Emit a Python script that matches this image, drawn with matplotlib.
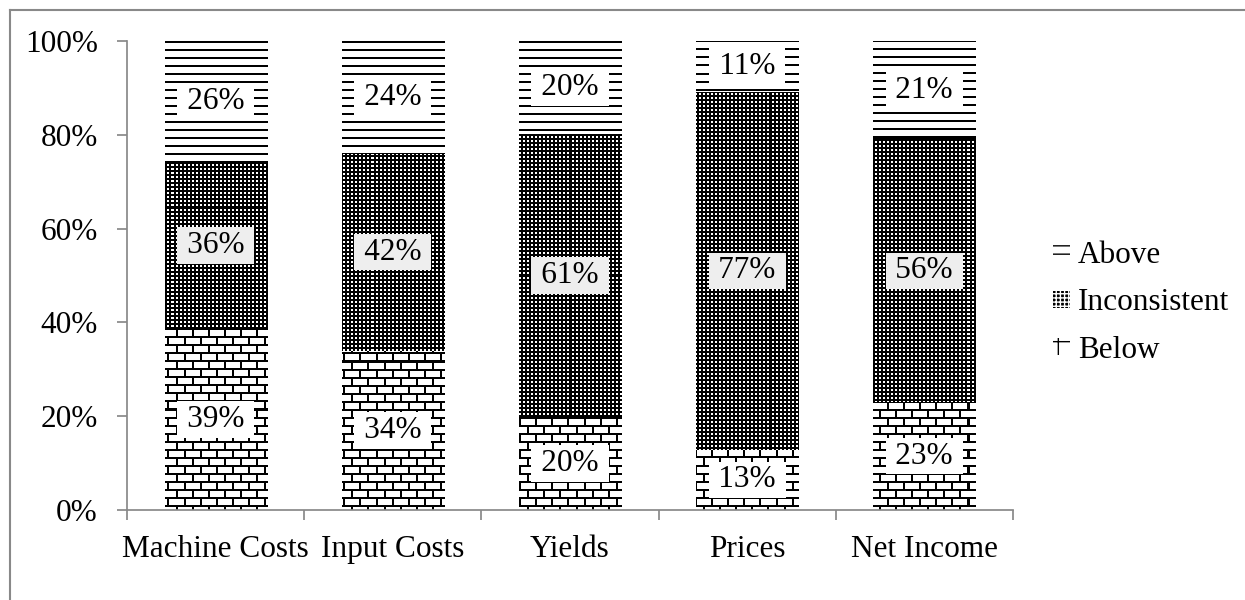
import numpy as np
import matplotlib
matplotlib.use("Agg")
import matplotlib.pyplot as plt
from matplotlib.patches import Patch
from matplotlib.lines import Line2D

# survey shares per item, in percent
categories = ["Machine Costs", "Input Costs", "Yields", "Prices", "Net Income"]
below = [39, 34, 20, 13, 23]
inconsistent = [36, 42, 61, 77, 56]
above = [26, 24, 20, 11, 21]
y_ticks = [0, 20, 40, 60, 80, 100]

plt.rcParams["font.family"] = ["Liberation Serif", "DejaVu Serif"]
plt.rcParams["font.size"] = 22.5

W, H, DPI = 1245, 600, 100
AX_W, AX_H = 886, 469
GRAY = "#898989"

fig = plt.figure(figsize=(W / DPI, H / DPI), dpi=DPI)
ax = fig.add_axes([127 / W, 1 - 510 / H, AX_W / W, AX_H / H])

# pattern fills, one pixel per screen pixel over the axes area
yy, xx = np.mgrid[0:AX_H, 0:AX_W]
stripes = np.where(yy % 8 < 2, 0.0, 1.0)
row = yy // 8
bricks = np.where((yy % 8 < 2) | (((xx + (row % 2) * 8) % 16) < 2), 0.0, 1.0)
dots = np.where((yy % 4 < 2) & (xx % 4 < 2), 1.0, 0.0)

x = np.arange(len(categories))
totals = np.array(below) + np.array(inconsistent) + np.array(above)
bottom = np.zeros(len(x))
series = [(below, bricks, "white"),
          (inconsistent, dots, "#eeeeee"),
          (above, stripes, "white")]

for vals, tex, boxcolor in series:
    frac = np.array(vals) / totals
    bars = ax.bar(x, frac, width=0.576, bottom=bottom,
                  facecolor="none", edgecolor="none")
    for b in bars:
        im = ax.imshow(tex, extent=(-0.5, 4.5, 0, 1), aspect="auto",
                       cmap="gray", vmin=0, vmax=1,
                       interpolation="nearest", zorder=1)
        im.set_clip_path(b)
    for xi, fi, bi, v in zip(x, frac, bottom, vals):
        ax.text(xi, bi + fi / 2, f"\u2009{v}%\u2009", ha="center", va="center",
                zorder=3,
                bbox=dict(boxstyle="square,pad=0.12", fc=boxcolor, ec="none"))
    bottom += frac

ax.set_xlim(-0.5, 4.5)
ax.set_ylim(0, 1)
ax.set_yticks(np.array(y_ticks) / 100, [f"{t}%" for t in y_ticks])
ax.set_xticks(np.arange(-0.5, 5, 1))
ax.set_xticklabels([])
ax.set_xticks(x, categories, minor=True)
ax.tick_params(axis="x", which="minor", length=0, pad=18)
ax.tick_params(axis="x", which="major", length=7, width=1.25, color=GRAY)
ax.tick_params(axis="y", length=7, width=1.25, color=GRAY, pad=14)
for side in ["top", "right"]:
    ax.spines[side].set_visible(False)
for side in ["left", "bottom"]:
    ax.spines[side].set_color(GRAY)
    ax.spines[side].set_linewidth(1.25)

handles = [
    Patch(facecolor="white", edgecolor="black", hatch="--", lw=0, label="Above"),
    Patch(facecolor="black", edgecolor="white", hatch="++++", lw=0, label="Inconsistent"),
    Patch(facecolor="white", edgecolor="black", hatch="-|", lw=0, label="Below"),
]
ax.legend(handles=handles, loc="center left",
          bbox_to_anchor=(1053 / W, 1 - 303 / H), bbox_transform=fig.transFigure,
          frameon=False, handlelength=0.55, handleheight=0.5,
          handletextpad=0.25, labelspacing=0.58, borderpad=0, borderaxespad=0)

# chart-area frame
fig.add_artist(Line2D([10 / W, 1], [1 - 10 / H, 1 - 10 / H], color=GRAY, lw=1.5))
fig.add_artist(Line2D([10 / W, 10 / W], [0, 1 - 10 / H], color=GRAY, lw=1.5))

fig.savefig("out.png", dpi=DPI)
